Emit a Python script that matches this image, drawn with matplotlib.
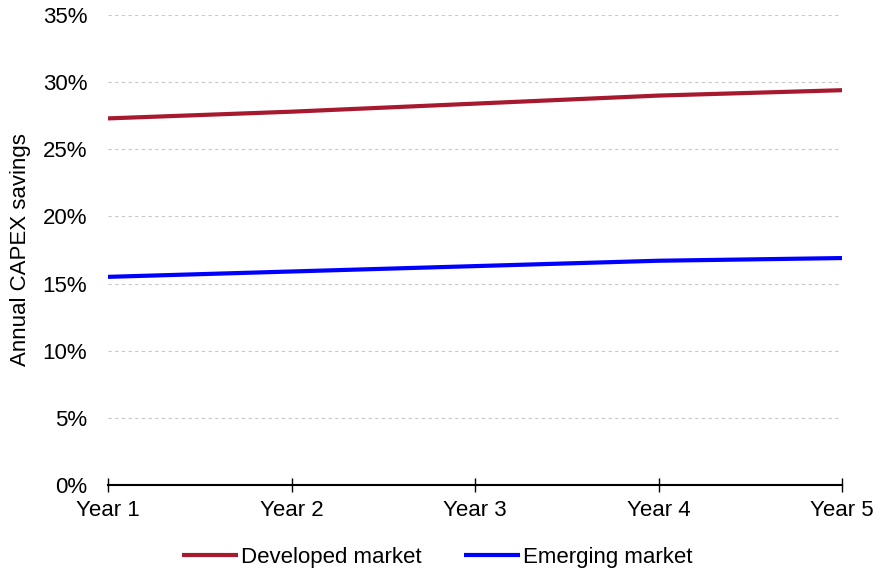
import matplotlib
matplotlib.use("Agg")
import matplotlib.pyplot as plt
from matplotlib.ticker import PercentFormatter

plt.rcParams['font.family'] = ['Liberation Sans', 'DejaVu Sans']

years = ["Year 1", "Year 2", "Year 3", "Year 4", "Year 5"]
developed = [27.3, 27.8, 28.4, 29.0, 29.4]
emerging = [15.5, 15.9, 16.3, 16.7, 16.9]

fig = plt.figure(figsize=(8.75, 5.73), dpi=100)
ax = fig.add_axes([108/875, 1-485/573, (842-108)/875, (485-15)/573])

x = list(range(len(years)))
ax.plot(x, developed, color="#A6192E", lw=3, label="Developed market", solid_capstyle="butt")
ax.plot(x, emerging, color="#0000FF", lw=3, label="Emerging market", solid_capstyle="butt")

ax.set_xlim(0, len(years) - 1)
ax.set_ylim(0, 35)
ax.set_yticks(range(0, 36, 5))
ax.yaxis.set_major_formatter(PercentFormatter(decimals=0))
ax.set_xticks(x)
ax.set_xticklabels(years)

for s in ["top", "right", "left"]:
    ax.spines[s].set_visible(False)
ax.spines["bottom"].set_linewidth(1.5)
ax.spines["bottom"].set_color("black")
ax.tick_params(axis="y", length=0, labelsize=16, pad=15)
ax.tick_params(axis="x", direction="inout", length=10, width=1, labelsize=16, pad=6)
ax.yaxis.grid(True, linestyle=(0, (3, 3)), color="#c8c8c8", lw=0.8)
ax.set_axisbelow(True)

ax.set_ylabel("Annual CAPEX savings", fontsize=16, labelpad=8)

fig.legend(loc="center", bbox_to_anchor=(0.5, 1 - 557/573), ncol=2, frameon=False,
           fontsize=16, handlelength=2.5, handletextpad=0.15, columnspacing=1.9,
           borderaxespad=0, borderpad=0)

fig.savefig("out.png", dpi=100)
